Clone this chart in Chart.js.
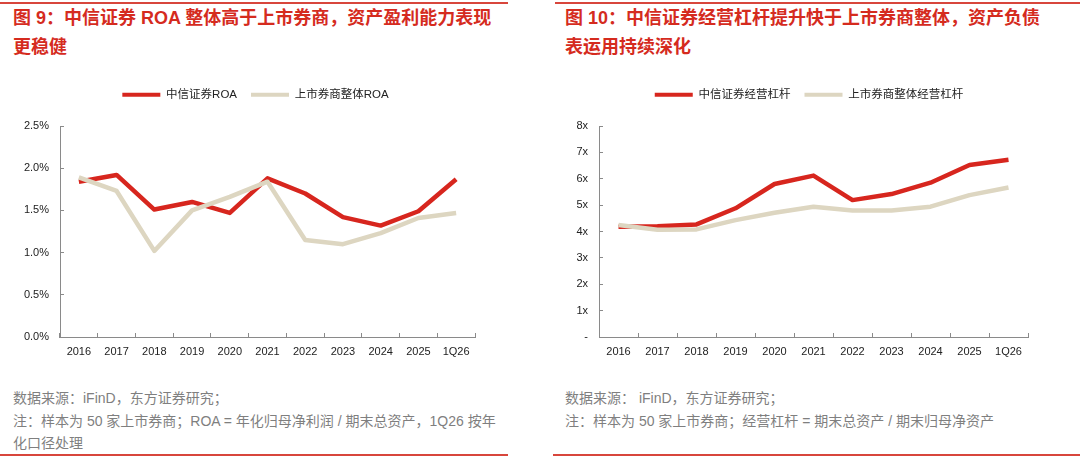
<!DOCTYPE html>
<html>
<head>
<meta charset="utf-8">
<script src="https://cdn.jsdelivr.net/npm/chart.js@4"></script>
<style>
  body { margin: 0; width: 1080px; height: 458px; background: #fff; position: relative; overflow: hidden; }
  .rule { position: absolute; height: 1.5px; background: #d8463c; }
  .title { position: absolute; top: 4px; font: bold 18px "Liberation Sans", "Noto Sans CJK SC", sans-serif; line-height: 29px; color: #d52b1e; white-space: nowrap; }
  .note { position: absolute; top: 387px; font: 14px "Liberation Sans", "Noto Sans CJK SC", sans-serif; line-height: 22.5px; color: #7f7f7f; white-space: nowrap; }
  canvas { position: absolute; }
</style>
</head>
<body>
<div class="rule" style="left:0;width:508px;top:2px"></div>
<div class="rule" style="left:555px;width:525px;top:2px"></div>
<div class="title" style="left:13px">图 9：中信证券 ROA 整体高于上市券商，资产盈利能力表现<br>更稳健</div>
<div class="title" style="left:565px">图 10：中信证券经营杠杆提升快于上市券商整体，资产负债<br>表运用持续深化</div>

<canvas id="roaChart" style="left:0;top:75px;width:530px;height:290px" width="530" height="290"></canvas>
<canvas id="levChart" style="left:540px;top:75px;width:540px;height:290px" width="540" height="290"></canvas>

<div class="note" style="left:13px">数据来源：iFinD，东方证券研究；<br>注：样本为 50 家上市券商；ROA = 年化归母净利润 / 期末总资产，1Q26 按年<br>化口径处理</div>
<div class="note" style="left:565px">数据来源： iFinD，东方证券研究；<br>注：样本为 50 家上市券商；经营杠杆 = 期末总资产 / 期末归母净资产</div>
<div class="rule" style="left:0;width:508px;top:454px"></div>
<div class="rule" style="left:553px;width:527px;top:454px"></div>

<script>
const years = ["2016", "2017", "2018", "2019", "2020", "2021", "2022", "2023", "2024", "2025", "1Q26"];

// ROA, %
const citicRoa = [1.84, 1.92, 1.51, 1.60, 1.47, 1.88, 1.70, 1.42, 1.32, 1.49, 1.87];
const brokersRoa = [1.89, 1.73, 1.02, 1.50, 1.66, 1.84, 1.15, 1.10, 1.23, 1.41, 1.47];

// operating leverage, x
const citicLev = [4.18, 4.20, 4.27, 4.88, 5.80, 6.12, 5.19, 5.42, 5.85, 6.52, 6.72];
const brokersLev = [4.25, 4.07, 4.08, 4.43, 4.71, 4.94, 4.80, 4.80, 4.94, 5.38, 5.67];

const RED = "#d7261e";
const BEIGE = "#ddd6c1";
const AXIS = "#8a8a8a";
const FONT = "'Liberation Sans', 'Noto Sans CJK SC', sans-serif";

// legend takes a fixed band above the plot, nudged sideways
function legendBand(shift) {
  return {
    id: "legendBand",
    beforeInit(chart) {
      const fit = chart.legend.fit;
      chart.legend.fit = function () {
        fit.call(this);
        this.height = 51;
      };
    },
    afterLayout(chart) {
      chart.legend.left += shift;
      chart.legend.right += shift;
    },
  };
}

function makeChart(id, names, seriesA, seriesB, yOpts, yWidth, padRight, shift) {
  return new Chart(document.getElementById(id), {
    type: "line",
    data: {
      labels: years,
      datasets: [
        {
          label: names[0],
          data: seriesA,
          borderColor: RED,
          backgroundColor: RED,
          borderWidth: 4.5,
          pointRadius: 0,
          tension: 0,
          borderJoinStyle: "round",
          order: 1,
        },
        {
          label: names[1],
          data: seriesB,
          borderColor: BEIGE,
          backgroundColor: BEIGE,
          borderWidth: 4.5,
          pointRadius: 0,
          tension: 0,
          borderJoinStyle: "round",
          order: 0,
        },
      ],
    },
    options: {
      responsive: false,
      animation: false,
      layout: { padding: { left: 0, right: padRight, top: 0, bottom: 0 } },
      plugins: {
        tooltip: { enabled: false },
        legend: {
          position: "top",
          labels: {
            boxWidth: 38,
            boxHeight: 4,
            padding: 14,
            color: "#222",
            font: { family: FONT, size: 11.5 },
            sort: (a, b) => a.datasetIndex - b.datasetIndex,
            generateLabels: (chart) =>
              Chart.defaults.plugins.legend.labels.generateLabels(chart).map((l) => ({ ...l, lineWidth: 0 })),
          },
        },
      },
      scales: {
        x: {
          offset: true,
          border: { color: AXIS, width: 1 },
          grid: { drawOnChartArea: false, color: AXIS, tickLength: -4, offset: true },
          ticks: { color: "#222", font: { family: FONT, size: 11 }, padding: 12, maxRotation: 0, autoSkip: false },
          afterFit: (s) => { s.height = 28; },
        },
        y: {
          min: yOpts.min,
          max: yOpts.max,
          border: { color: AXIS, width: 1 },
          grid: { drawOnChartArea: false, color: AXIS, tickLength: -4 },
          ticks: {
            stepSize: yOpts.step,
            color: "#222",
            font: { family: FONT, size: 11 },
            padding: 15,
            callback: yOpts.format,
          },
          afterFit: (s) => { s.width = yWidth; },
        },
      },
    },
    plugins: [legendBand(shift)],
  });
}

makeChart(
  "roaChart",
  ["中信证券ROA", "上市券商整体ROA"],
  citicRoa,
  brokersRoa,
  { min: 0, max: 2.5, step: 0.5, format: (v) => v.toFixed(1) + "%" },
  60,
  55,
  18
);

makeChart(
  "levChart",
  ["中信证券经营杠杆", "上市券商整体经营杠杆"],
  citicLev,
  brokersLev,
  { min: 0, max: 8, step: 1, format: (v) => (v === 0 ? "-" : v + "x") },
  59,
  52,
  25
);
</script>
</body>
</html>
